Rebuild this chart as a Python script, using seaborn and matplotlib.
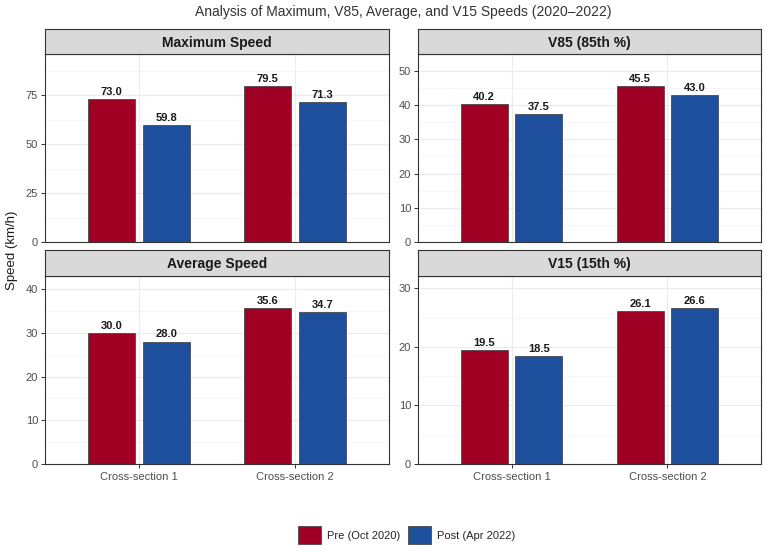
import pandas as pd
import matplotlib.pyplot as plt
import matplotlib.patches as mpatches
import seaborn as sns

# data
sections = ["Cross-section 1", "Cross-section 2"]
periods = ["Pre (Oct 2020)", "Post (Apr 2022)"]
metrics = ["Maximum Speed", "V85 (85th %)", "Average Speed", "V15 (15th %)"]

max_pre = [73.0, 79.5]
max_post = [59.8, 71.3]
v85_pre = [40.2, 45.5]
v85_post = [37.5, 43.0]
avg_pre = [30.0, 35.6]
avg_post = [28.0, 34.7]
v15_pre = [19.5, 26.1]
v15_post = [18.5, 26.6]

y_breaks = {
    "Maximum Speed": [0, 25, 50, 75],
    "V85 (85th %)": [0, 10, 20, 30, 40, 50],
    "Average Speed": [0, 10, 20, 30, 40],
    "V15 (15th %)": [0, 10, 20, 30],
}

series = {
    "Maximum Speed": (max_pre, max_post),
    "V85 (85th %)": (v85_pre, v85_post),
    "Average Speed": (avg_pre, avg_post),
    "V15 (15th %)": (v15_pre, v15_post),
}

rows = []
for m, (pre, post) in series.items():
    for i, s in enumerate(sections):
        rows.append({"Metric": m, "Section": s, "Period": periods[0], "Speed": pre[i]})
        rows.append({"Metric": m, "Section": s, "Period": periods[1], "Speed": post[i]})
df = pd.DataFrame(rows)

colors = {periods[0]: "#A00024", periods[1]: "#1E4F9C"}

sns.set_style("white")
plt.rcParams["font.family"] = ["Liberation Sans", "DejaVu Sans"]

W, H = 767, 552
fig = plt.figure(figsize=(W / 100, H / 100), dpi=100)

# panel boxes in pixels: (left, right, strip_top, strip_bottom, panel_bottom)
boxes = [
    (45, 389, 29, 54, 242),
    (418, 761, 29, 54, 242),
    (45, 389, 250, 276, 464),
    (418, 761, 250, 276, 464),
]

for idx, (m, (l, r, st, sb, pb)) in enumerate(zip(metrics, boxes)):
    ax = fig.add_axes([l / W, 1 - pb / H, (r - l) / W, (pb - sb) / H])
    sub = df[df["Metric"] == m]
    sns.barplot(data=sub, x="Section", y="Speed", hue="Period", order=sections,
                hue_order=periods, palette=colors, saturation=1, width=0.7, gap=0.143,
                edgecolor="#3a3a3a", linewidth=0.5, legend=False, ax=ax, zorder=3)
    for c in ax.containers:
        ax.bar_label(c, fmt="%.1f", padding=1.5, fontsize=8, fontweight="bold",
                     color="#1a1a1a")
    top = sub["Speed"].max() * 1.15 * 1.05
    ax.set_ylim(0, top)
    ax.set_xlim(-0.6, 1.6)
    br = y_breaks[m]
    ax.set_yticks(br)
    step = br[1] - br[0]
    minors = [b + step / 2 for b in br if b + step / 2 < top]
    ax.set_yticks(minors, minor=True)
    ax.grid(axis="y", which="major", color="#EBEBEB", lw=0.8, zorder=0)
    ax.grid(axis="y", which="minor", color="#F2F2F2", lw=0.5, zorder=0)
    ax.grid(axis="x", which="major", color="#EBEBEB", lw=0.8, zorder=0)
    ax.set_axisbelow(True)
    ax.set_xlabel("")
    ax.set_ylabel("")
    for sp in ax.spines.values():
        sp.set_color("#333333")
        sp.set_linewidth(0.8)
    ax.tick_params(axis="y", which="major", left=True, length=3, width=0.7, color="#333333",
                   labelcolor="#4D4D4D", labelsize=8, pad=2)
    ax.tick_params(axis="y", which="minor", left=False, length=0)
    if idx >= 2:
        ax.tick_params(axis="x", bottom=True, length=3, width=0.7, color="#333333",
                       labelcolor="#4D4D4D", labelsize=8, pad=3)
    else:
        ax.tick_params(axis="x", bottom=False, length=0, labelbottom=False)

    # facet strip
    sax = fig.add_axes([l / W, 1 - sb / H, (r - l) / W, (sb - st) / H])
    sax.set_facecolor("#D9D9D9")
    sax.set_xticks([])
    sax.set_yticks([])
    for sp in sax.spines.values():
        sp.set_color("#333333")
        sp.set_linewidth(0.8)
    sax.text(0.5, 0.45, m, ha="center", va="center", fontsize=10,
             fontweight="bold", color="#1a1a1a", transform=sax.transAxes)

fig.text(403 / W, 1 - 12 / H, "Analysis of Maximum, V85, Average, and V15 Speeds (2020\u20132022)",
         ha="center", va="center", fontsize=10, color="#333333")
fig.text(12 / W, 1 - 250 / H, "Speed (km/h)", rotation=90, ha="center", va="center",
         fontsize=9.5, color="#1a1a1a")

handles = [mpatches.Patch(facecolor=colors[p], edgecolor="#3a3a3a", linewidth=0.5, label=p)
           for p in periods]
fig.legend(handles=handles, loc="center", bbox_to_anchor=(407 / W, 1 - 535 / H), ncol=2,
           frameon=False, fontsize=8, handlelength=2.0, handleheight=2.0,
           columnspacing=0.7, handletextpad=0.6)

fig.savefig("out.png", dpi=100)
